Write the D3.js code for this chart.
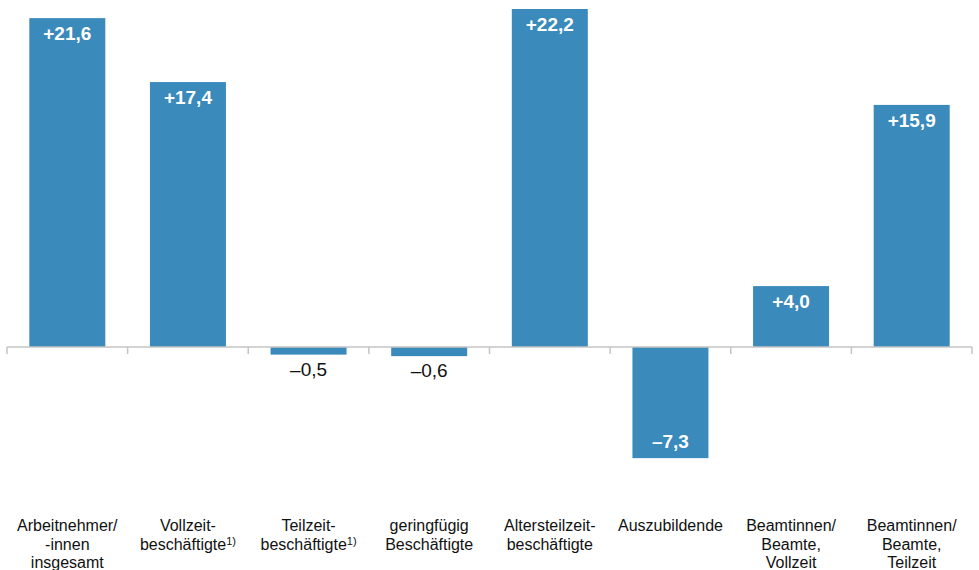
<!DOCTYPE html>
<html>
<head>
<meta charset="utf-8">
<script src="https://cdn.jsdelivr.net/npm/d3@7"></script>
<style>
  body { margin: 0; background: #fff; font-family: "Liberation Sans", Arial, sans-serif; }
</style>
</head>
<body>
<div id="chart"></div>
<script>
// category labels (lines), superscript note flag, values
const categories = [
  ["Arbeitnehmer/", "-innen", "insgesamt"],
  ["Vollzeit-", "beschäftigte"],
  ["Teilzeit-", "beschäftigte"],
  ["geringfügig", "Beschäftigte"],
  ["Altersteilzeit-", "beschäftigte"],
  ["Auszubildende"],
  ["Beamtinnen/", "Beamte,", "Vollzeit"],
  ["Beamtinnen/", "Beamte,", "Teilzeit"]
];
const footnotes = ["", "1)", "1)", "", "", "", "", ""];
const values = [21.6, 17.4, -0.5, -0.6, 22.2, -7.3, 4.0, 15.9];
const valueLabels = ["+21,6", "+17,4", "\u20130,5", "\u20130,6", "+22,2", "\u20137,3", "+4,0", "+15,9"];

const W = 979, H = 570;
const svg = d3.select("#chart").append("svg").attr("width", W).attr("height", H);

const ids = d3.range(values.length);
const x = d3.scaleBand().domain(ids).range([7, 972]).paddingInner(0.37).paddingOuter(0.185);
const y = d3.scaleLinear().domain([0, 22.2]).range([347, 9]);
const step = x.step();
const barColor = "#3a8abb";

// bars
svg.selectAll("rect.bar")
  .data(ids)
  .enter().append("rect")
  .attr("class", "bar")
  .attr("x", i => x(i))
  .attr("width", x.bandwidth())
  .attr("y", i => Math.min(y(values[i]), y(0)))
  .attr("height", i => Math.abs(y(values[i]) - y(0)))
  .attr("fill", barColor);

// axis line + ticks at category boundaries
const axisG = svg.append("g").attr("stroke", "#c4c4c4").attr("stroke-width", 1.5);
axisG.append("line").attr("x1", 7).attr("x2", 972).attr("y1", y(0)).attr("y2", y(0));
const bounds = d3.range(values.length + 1).map(k => 7 + k * step);
axisG.selectAll("line.tick").data(bounds).enter().append("line")
  .attr("class", "tick")
  .attr("x1", d => d).attr("x2", d => d)
  .attr("y1", y(0)).attr("y2", y(0) + 7);

// value labels
const inside = i => values[i] >= 0 || Math.abs(y(values[i]) - y(0)) > 40;
svg.selectAll("text.val")
  .data(ids)
  .enter().append("text")
  .attr("class", "val")
  .attr("x", i => x(i) + x.bandwidth() / 2)
  .attr("y", i => {
    const v = values[i];
    if (v >= 0) return y(v) + 22;
    if (inside(i)) return y(v) - 10;
    return y(v) + 21;
  })
  .attr("text-anchor", "middle")
  .attr("font-size", 19)
  .attr("font-weight", i => inside(i) ? "bold" : "normal")
  .attr("fill", i => inside(i) ? "#fff" : "#111")
  .text(i => valueLabels[i]);

// category labels
const lab = svg.selectAll("text.cat")
  .data(ids)
  .enter().append("text")
  .attr("class", "cat")
  .attr("text-anchor", "middle")
  .attr("font-size", 16)
  .attr("fill", "#111");

lab.each(function (i) {
  const t = d3.select(this);
  const cx = x(i) + x.bandwidth() / 2;
  categories[i].forEach((line, k) => {
    const last = k === categories[i].length - 1;
    const ts = t.append("tspan").attr("x", cx).attr("y", 531 + k * 18.5);
    ts.text(line);
    if (last && footnotes[i]) {
      ts.append("tspan").attr("font-size", 11).attr("dy", -5).text(footnotes[i]);
    }
  });
});
</script>
</body>
</html>
